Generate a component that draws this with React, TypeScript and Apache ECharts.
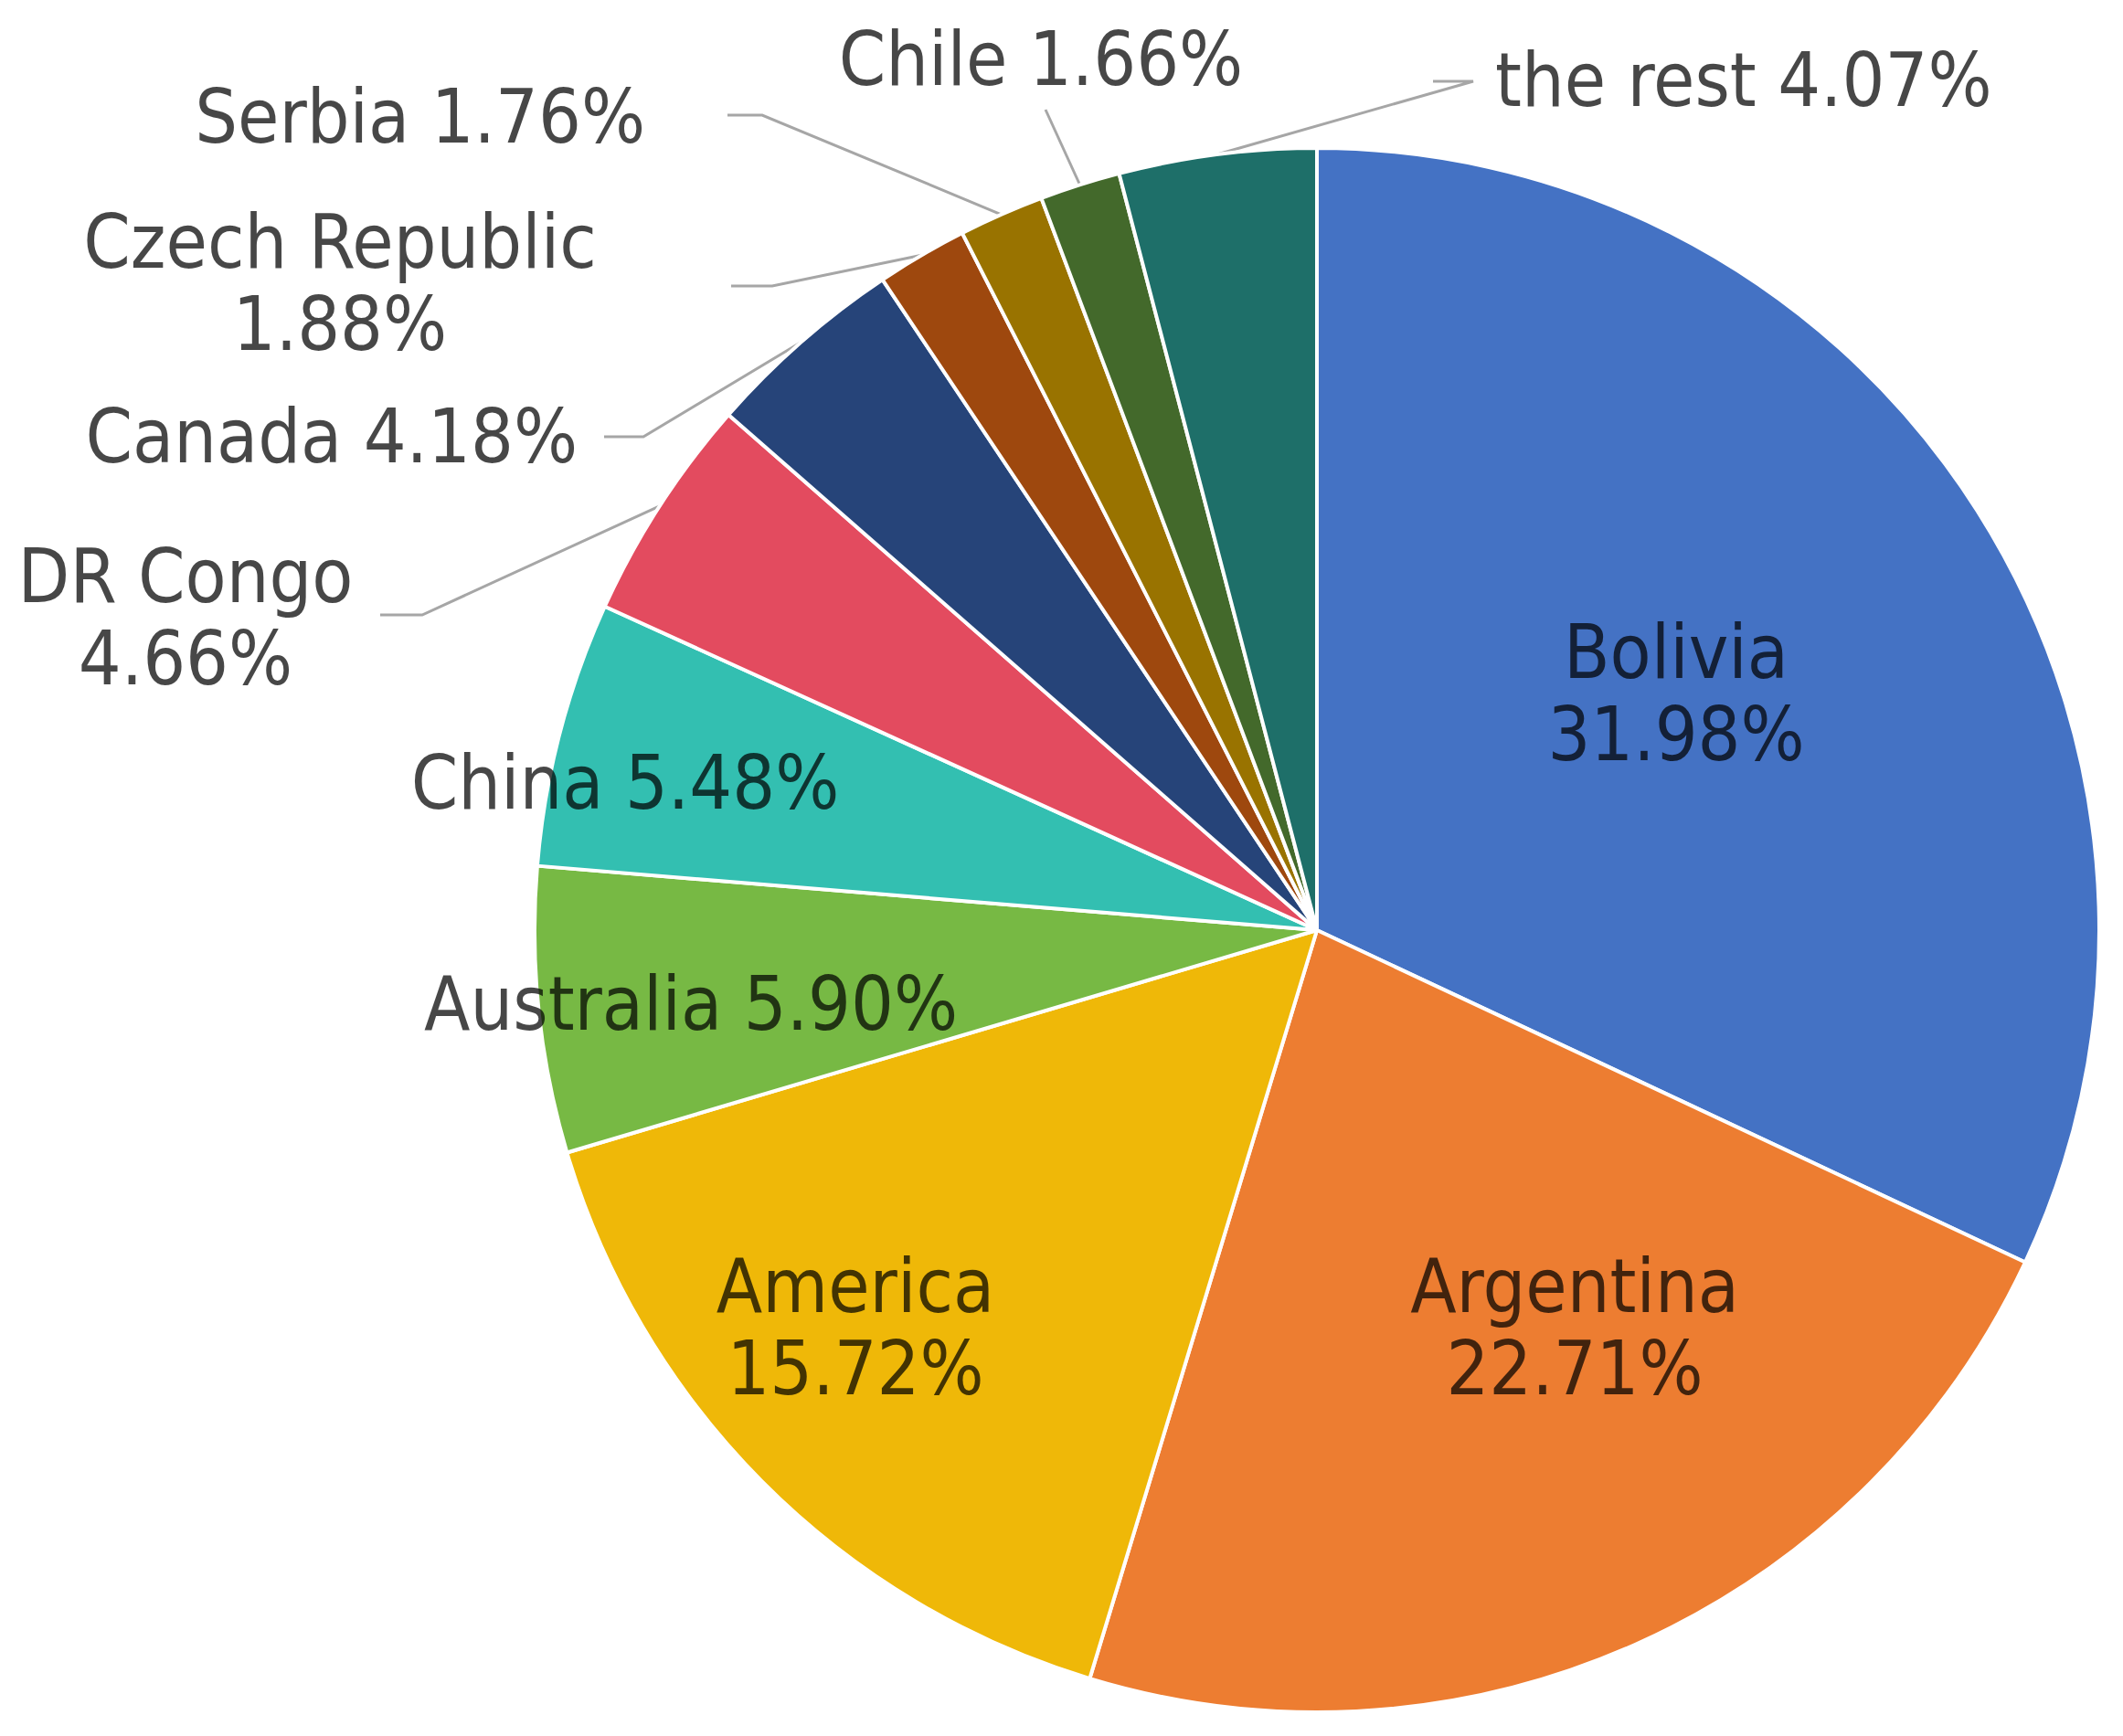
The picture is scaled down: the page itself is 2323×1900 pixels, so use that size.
import React, { useEffect, useRef } from "react";
import * as echarts from "echarts";

const countries = [
  "Bolivia",
  "Argentina",
  "America",
  "Australia",
  "China",
  "DR Congo",
  "Canada",
  "Czech Republic",
  "Serbia",
  "Chile",
  "the rest",
];
const shares = [31.98, 22.71, 15.72, 5.9, 5.48, 4.66, 4.18, 1.88, 1.76, 1.66, 4.07];
const sliceColors = [
  "#4472C4",
  "#ED7D31",
  "#EFB808",
  "#77B944",
  "#33BFB1",
  "#E34B5F",
  "#264479",
  "#9E480E",
  "#997300",
  "#43692B",
  "#1E6F69",
];

// label layout (style only): anchor x,y, two-line label, leader elbow/end
type LabelPlace = {
  x: number;
  y: number;
  align: "left" | "center" | "right";
  twoLine: boolean;
  line?: number[][]; // elbow and end points (start comes from pie edge)
};
const labelPlaces: LabelPlace[] = [
  { x: 1834, y: 758, align: "center", twoLine: true },
  { x: 1723, y: 1452, align: "center", twoLine: true },
  { x: 936, y: 1452, align: "center", twoLine: true },
  { x: 756, y: 1098, align: "center", twoLine: false },
  { x: 684, y: 856, align: "center", twoLine: false },
  { x: 203, y: 675, align: "center", twoLine: true, line: [[462, 673], [416, 673]] },
  { x: 632, y: 477, align: "right", twoLine: false, line: [[704, 478], [661, 478]] },
  { x: 372, y: 309, align: "center", twoLine: true, line: [[845, 313], [800, 313]] },
  { x: 706, y: 127, align: "right", twoLine: false, line: [[834, 126], [796, 126]] },
  { x: 1139, y: 64, align: "center", twoLine: false, line: [[1144, 120]] },
  { x: 1636, y: 87, align: "left", twoLine: false, line: [[1612, 89], [1568, 89]] },
];

export default function App() {
  const ref = useRef<HTMLDivElement>(null);
  useEffect(() => {
    if (!ref.current) return;
    const chart = echarts.init(ref.current, undefined, { renderer: "svg" });
    chart.setOption({
      animation: false,
      backgroundColor: "#ffffff",
      series: [
        {
          type: "pie",
          center: [1441, 1018],
          radius: [0, 856],
          startAngle: 90,
          clockwise: true,
          avoidLabelOverlap: false,
          itemStyle: { borderColor: "#ffffff", borderWidth: 4 },
          label: {
            fontFamily: "'DejaVu Sans Condensed', 'DejaVu Sans', sans-serif",
            fontSize: 82,
            lineHeight: 90,
            color: "rgba(0,0,0,0.72)",
          },
          labelLine: {
            lineStyle: { color: "#A6A6A6", width: 3 },
            smooth: false,
          },
          emphasis: { disabled: true },
          data: countries.map((name, i) => {
            const place = labelPlaces[i];
            const outside = !!place.line;
            return {
              name,
              value: shares[i],
              itemStyle: { color: sliceColors[i] },
              label: {
                show: true,
                position: outside ? "outside" : "inside",
                align: place.align,
                formatter: `${name}${place.twoLine ? "\n" : " "}${shares[i].toFixed(2)}%`,
              },
              labelLine: { show: outside, length: 20, length2: 20 },
            };
          }),
          labelLayout: (params: any) => {
            const place = labelPlaces[params.dataIndex];
            const out: any = {
              x: place.x,
              y: place.y,
              align: place.align,
              verticalAlign: "middle",
            };
            if (place.line && params.labelLinePoints && params.labelLinePoints.length) {
              const start = params.labelLinePoints[0];
              out.labelLinePoints = [start, ...place.line];
            }
            return out;
          },
        },
      ],
    });
    return () => chart.dispose();
  }, []);
  return (
    <div
      ref={ref}
      style={{ position: "fixed", left: 0, top: 0, width: 2323, height: 1900, background: "#fff" }}
    />
  );
}
